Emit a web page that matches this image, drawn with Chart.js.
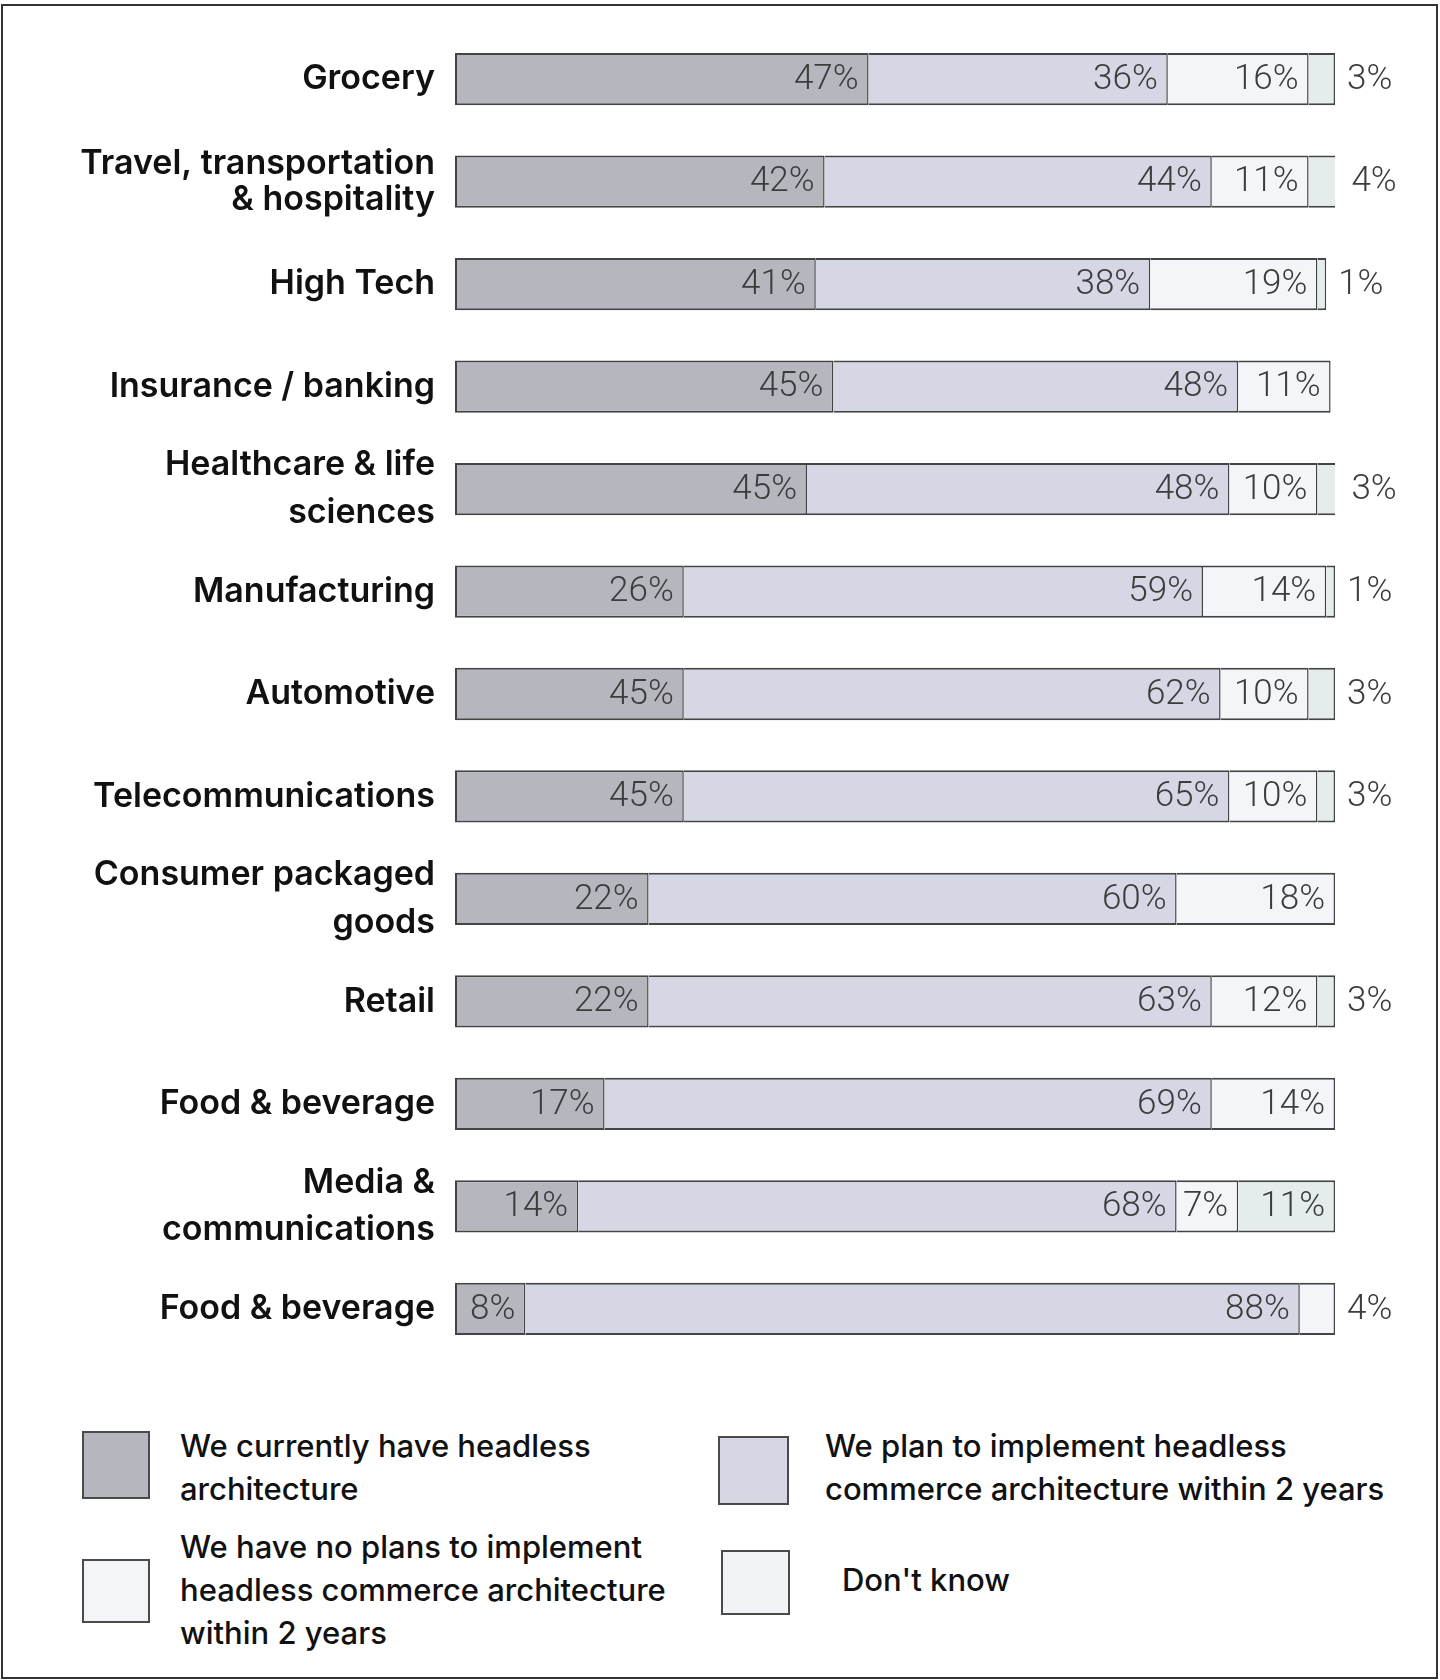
<!DOCTYPE html>
<html>
<head>
<meta charset="utf-8">
<title>Headless commerce adoption by industry</title>
<script src="https://cdn.jsdelivr.net/npm/chart.js@4.4.1/dist/chart.umd.min.js"></script>
<style>
  html, body { margin: 0; padding: 0; background: #fff; }
  body { width: 1440px; height: 1680px; position: relative; overflow: hidden; font-family: Inter, "Noto Sans", sans-serif; }
  #frame { position: absolute; left: 1px; top: 4px; width: 1433px; height: 1671px; border: 2px solid #333; box-sizing: content-box; }
  #wrap { position: absolute; left: 0; top: 0; width: 1440px; height: 1400px; }
  .box { position: absolute; border: 2px solid #4a4a4a; box-sizing: border-box; }
  .txt { position: absolute; font-size: 31px; font-weight: 500; line-height: 43px; color: #111; white-space: nowrap; }
</style>
</head>
<body>
<div id="frame"></div>
<div id="wrap"><canvas id="chart" width="1440" height="1400"></canvas></div>
<div id="legend"></div>

<script>
// Industries (y axis)
var categories = [
    ['Grocery'],
    ['Travel, transportation', '& hospitality'],
    ['High Tech'],
    ['Insurance / banking'],
    ['Healthcare & life', 'sciences'],
    ['Manufacturing'],
    ['Automotive'],
    ['Telecommunications'],
    ['Consumer packaged', 'goods'],
    ['Retail'],
    ['Food & beverage'],
    ['Media &', 'communications'],
    ['Food & beverage']
];

// Bar lengths as drawn in the picture (share of the full bar, %)
var currentHave = [47, 42, 41, 43, 40, 26, 26, 26, 22, 22, 17, 14, 8];
var planTwoYears = [34, 44, 38, 46, 48, 59, 61, 62, 60, 64, 69, 68, 88];
var noPlans = [16, 11, 19, 10.5, 10, 14, 10, 10, 18, 12, 14, 7, 4];
var dontKnow = [3, 3.5, 1, null, 2.5, 1, 3, 2, null, 2, null, 11, null];

// Percentages as printed on the bars (a few rows don't match the bar lengths)
var currentLabels = [47, 42, 41, 45, 45, 26, 45, 45, 22, 22, 17, 14, 8];
var planLabels = [36, 44, 38, 48, 48, 59, 62, 65, 60, 63, 69, 68, 88];
var noPlansLabels = [16, 11, 19, 11, 10, 14, 10, 10, 18, 12, 14, 7, 4];
var dontKnowLabels = [3, 4, 1, null, 3, 1, 3, 3, null, 3, null, 11, null];

// Legend text, line by line
var seriesLines = [
    ['We currently have headless', 'architecture'],
    ['We plan to implement headless', 'commerce architecture within 2 years'],
    ['We have no plans to implement', 'headless commerce architecture', 'within 2 years'],
    ["Don't know"]
];

var colors = ['#b6b6be', '#d5d7e5', '#f4f5f8', '#e4ecec'];
var swatches = ['#b6b6be', '#d5d7e5', '#f4f5f8', '#f2f3f6'];  // legend box for "Don't know" is lighter than its bars
var printed = [currentLabels, planLabels, noPlansLabels, dontKnowLabels];
var seriesData = [currentHave, planTwoYears, noPlans, dontKnow];

// percent labels: inside the segment, or after the bar when the segment is too thin
var valueLabels = {
    id: 'valueLabels',
    afterDatasetsDraw: function (chart) {
        var ctx = chart.ctx;
        ctx.save();
        ctx.font = '300 35px Roboto, "Liberation Sans Narrow", sans-serif';
        ctx.fillStyle = '#3c3c3c';
        ctx.textBaseline = 'middle';
        for (var i = 0; i < categories.length; i++) {
            var rowEnd = 0;
            chart.data.datasets.forEach(function (ds, d) {
                if (ds.data[i] != null) rowEnd = Math.max(rowEnd, chart.getDatasetMeta(d).data[i].x);
            });
            chart.data.datasets.forEach(function (ds, d) {
                var v = printed[d][i];
                if (v == null) return;
                var el = chart.getDatasetMeta(d).data[i];
                var txt = v + '%';
                if (el.x - el.base > 50) {
                    ctx.textAlign = 'right';
                    ctx.fillText(txt, el.x - 10, el.y + 1);
                } else {
                    ctx.textAlign = 'left';
                    ctx.fillText(txt, rowEnd + 12, el.y + 1);
                }
            });
        }
        ctx.restore();
    }
};

document.addEventListener('DOMContentLoaded', function () {
    var datasets = seriesData.map(function (data, d) {
        return {
            label: seriesLines[d].join(' '),
            data: data,
            backgroundColor: colors[d],
            borderColor: '#444',
            borderWidth: { top: 2, bottom: 2, right: 1.5, left: d === 0 ? 2 : 0 },
            borderSkipped: false,
            barPercentage: 0.51,
            categoryPercentage: 1
        };
    });

    var ctx = document.getElementById('chart').getContext('2d');
    new Chart(ctx, {
        type: 'bar',
        data: { labels: categories, datasets: datasets },
        options: {
            indexAxis: 'y',
            responsive: false,
            animation: false,
            devicePixelRatio: 1,
            layout: { padding: { top: 28, bottom: 40, right: 105, left: 0 } },
            plugins: {
                legend: { display: false },
                tooltip: { enabled: false }
            },
            scales: {
                x: { stacked: true, display: false, min: 0, max: 100 },
                y: {
                    stacked: true,
                    grid: { display: false },
                    border: { display: false },
                    afterFit: function (scale) {
                        scale.width = 455;
                        scale.paddingTop = 0;
                        scale.paddingBottom = 0;
                    },
                    ticks: {
                        padding: 12,
                        color: '#111',
                        font: function (c) {
                            return { family: 'Inter, "Noto Sans", sans-serif', size: 34, weight: '600', lineHeight: c.index === 1 ? 1.05 : 1.4 };
                        }
                    }
                }
            }
        },
        plugins: [valueLabels]
    });

    // legend (html so the wrapped text stays as real text)
    var spots = [
        { box: [82, 1431, 68, 68], txt: [180, 1424] },
        { box: [718, 1436, 71, 69], txt: [825, 1424] },
        { box: [82, 1559, 68, 64], txt: [180, 1525] },
        { box: [721, 1550, 69, 65], txt: [842, 1558] }
    ];
    var legend = document.getElementById('legend');
    seriesLines.forEach(function (lines, d) {
        var s = spots[d];
        var box = document.createElement('div');
        box.className = 'box';
        box.style.cssText = 'left:' + s.box[0] + 'px;top:' + s.box[1] + 'px;width:' + s.box[2] + 'px;height:' + s.box[3] + 'px;background:' + swatches[d] + ';';
        legend.appendChild(box);
        var t = document.createElement('div');
        t.className = 'txt';
        t.style.left = s.txt[0] + 'px';
        t.style.top = s.txt[1] + 'px';
        t.innerHTML = lines.join('<br>');
        legend.appendChild(t);
    });
});
</script>
</body>
</html>
